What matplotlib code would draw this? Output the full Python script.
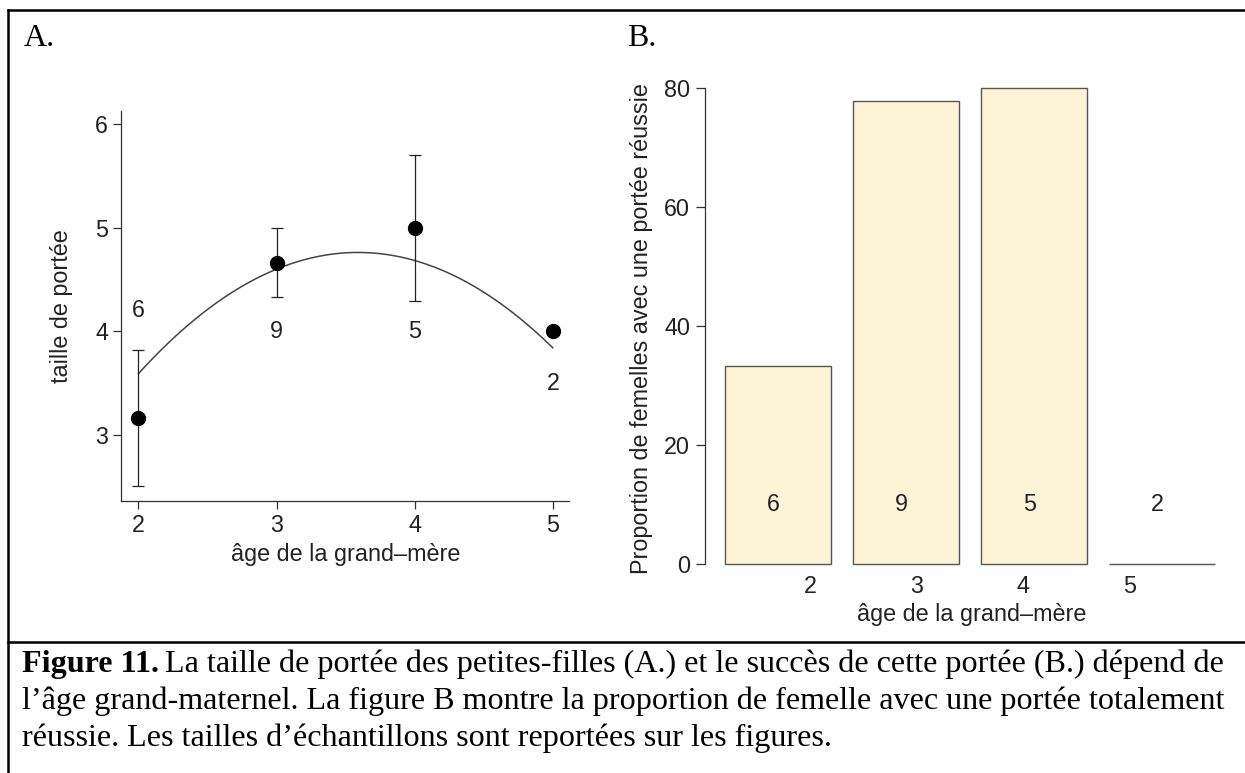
import numpy as np
import matplotlib
matplotlib.use("Agg")
from matplotlib import pyplot as plt

plt.rcParams['font.family'] = ['Liberation Sans', 'DejaVu Sans']

# panel A: litter size by grandmother age
age_a = [2, 3, 4, 5]
size_mean = [3.16, 4.66, 5.0, 4.0]
size_hi = [3.815, 5.0, 5.705, 4.0]
size_lo = [2.51, 4.33, 4.29, 4.0]
n_a = ["6", "9", "5", "2"]
n_a_y = [4.2, 4.0, 4.0, 3.5]
# quadratic fit: y = a*(x-h)^2 + k
fit_a, fit_h, fit_k = -0.463, 3.59, 4.76

# panel B: % females with a fully successful litter
succ_pct = [33.3, 77.8, 80.0, 0.0]
n_b = ["6", "9", "5", "2"]
age_b_labels = ["2", "3", "4", "5"]

caption = [
    "La taille de portée des petites-filles (A.) et le succès de cette portée (B.) dépend de",
    "l’âge grand-maternel. La figure B montre la proportion de femelle avec une portée totalement",
    "réussie. Les tailles d’échantillons sont reportées sur les figures.",
]

W, H = 1245, 773
fig = plt.figure(figsize=(W / 100, H / 100), dpi=100)

def box(l, t, r, b):
    # pixel box -> figure fraction
    return [l / W, 1 - b / H, (r - l) / W, (b - t) / H]

ink = '#222222'
axc = '#333333'
fs = 16.8

# ---- A ----
axA = fig.add_axes(box(121.4, 111.5, 569.4, 501))
axA.set_xlim(1.877, 5.12)
axA.set_ylim(2.362, 6.12)
xs = np.linspace(2, 5, 100)
axA.plot(xs, fit_a * (xs - fit_h) ** 2 + fit_k, color='#444444', lw=1.1)
yerr = [np.array(size_mean) - np.array(size_lo), np.array(size_hi) - np.array(size_mean)]
axA.errorbar(age_a, size_mean, yerr=yerr, fmt='o', color='black', ms=10,
             ecolor='#222222', elinewidth=0.9, capsize=4.5, capthick=0.9)
for x, y, t in zip(age_a, n_a_y, n_a):
    axA.text(x, y, t, ha='center', va='center', fontsize=fs, color=ink)
for s in ['top', 'right']:
    axA.spines[s].set_visible(False)
for s in ['left', 'bottom']:
    axA.spines[s].set_color(axc)
    axA.spines[s].set_linewidth(0.9)
axA.set_xticks(age_a)
axA.set_yticks([3, 4, 5, 6])
axA.tick_params(colors=axc, labelcolor=ink, labelsize=fs, length=5.5, width=0.9, pad=4)
axA.set_xlabel("âge de la grand–mère", fontsize=fs, color=ink)
axA.set_ylabel("taille de portée", fontsize=fs, color=ink)
axA.xaxis.set_label_coords(0.501, -0.108)
axA.yaxis.set_label_coords(-0.108, 0.5)

# ---- B ----
axB = fig.add_axes(box(704.9, 69.2, 1235, 583.5))
pos = 0.7 + 1.2 * np.arange(len(succ_pct))
axB.bar(pos, succ_pct, width=1.0, color='#FDF3D6', edgecolor='#555555', linewidth=1.0)
for x, t in zip(pos, n_b):
    axB.text(x - 0.04, 10, t, ha='center', va='center', fontsize=fs, color=ink)
axB.set_xlim(0.016, 4.984)
axB.set_ylim(-3.2, 83.2)
for s in ['top', 'right', 'bottom']:
    axB.spines[s].set_visible(False)
axB.spines['left'].set_bounds(0, 80)
axB.spines['left'].set_color(axc)
axB.spines['left'].set_linewidth(0.9)
axB.set_yticks([0, 20, 40, 60, 80])
axB.set_xticks(np.arange(1, 5))
axB.set_xticklabels(age_b_labels)
axB.tick_params(axis='y', colors=axc, labelcolor=ink, labelsize=fs, length=6.5, width=0.9, pad=4)
axB.tick_params(axis='x', length=0, labelcolor=ink, labelsize=fs, pad=-6)
axB.set_xlabel("âge de la grand–mère", fontsize=fs, color=ink)
axB.set_ylabel("Proportion de femelles avec une portée réussie", fontsize=fs, color=ink)
axB.xaxis.set_label_coords((972 - 704.9) / 530.1, -0.038)
axB.yaxis.set_label_coords((653 - 704.9) / 530.1, (583.5 - 329) / 514.3)

# ---- panel letters, frame, caption ----
fig.text(24 / W, 1 - 38 / H, "A.", family='Liberation Serif', fontsize=23, va='center')
fig.text(627 / W, 1 - 38 / H, "B.", family='Liberation Serif', fontsize=23, va='center')

fl = dict(color='black', lw=1.8, transform=fig.transFigure)
fig.add_artist(plt.Line2D([8 / W, 1], [1 - 10 / H, 1 - 10 / H], **fl))
fig.add_artist(plt.Line2D([8 / W, 8 / W], [0, 1 - 10 / H], **fl))
fig.add_artist(plt.Line2D([8 / W, 1], [1 - 642 / H, 1 - 642 / H], **fl))

cap_fs = 23.1
x0 = 22 / W
baselines = [672, 709, 746]
t1 = fig.text(x0, 1 - baselines[0] / H, "Figure 11.", family='Liberation Serif',
              fontweight='bold', fontsize=cap_fs, va='baseline')
r = fig.canvas.get_renderer()
bb = t1.get_window_extent(renderer=r)
fig.text((bb.x1 + 6) / W, 1 - baselines[0] / H, caption[0],
         family='Liberation Serif', fontsize=cap_fs, va='baseline')
for line, yb in zip(caption[1:], baselines[1:]):
    fig.text(x0, 1 - yb / H, line, family='Liberation Serif', fontsize=cap_fs, va='baseline')

fig.savefig("out.png", dpi=100)
